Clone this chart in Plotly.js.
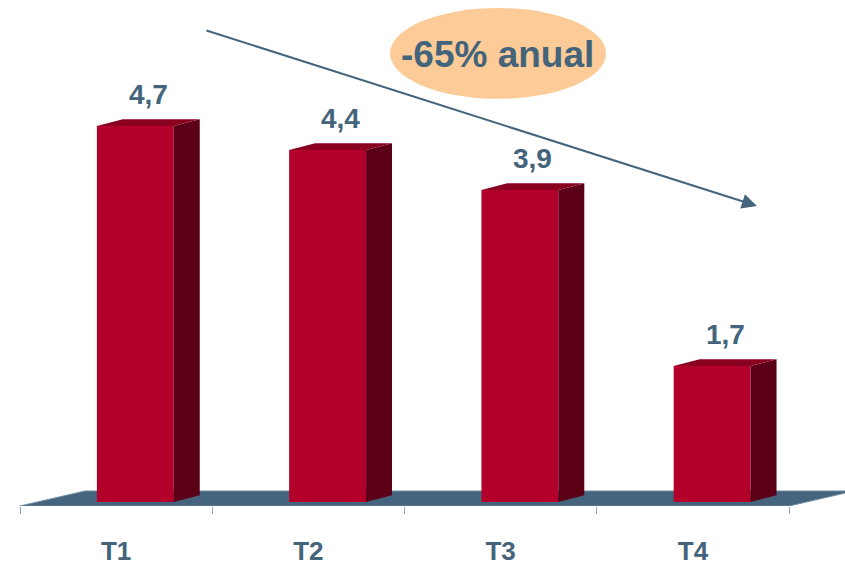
<!DOCTYPE html>
<html>
<head>
<meta charset="utf-8">
<script src="https://cdn.plot.ly/plotly-3.0.1.min.js"></script>
<style>html,body{margin:0;padding:0;background:#fff;}#chart{width:845px;height:565px;}</style>
</head>
<body>
<div id="chart"></div>
<script>
// ---- data ----
const categories = ['T1', 'T2', 'T3', 'T4'];
const values = [4.7, 4.4, 3.9, 1.7];
const trendLabel = '-65% anual';

// ---- styling / geometry ----
const FONT = 'Arial, "Liberation Sans", sans-serif';
const TEXT = '#43647b';
const FRONT = '#b3002a';
const SIDE = '#5c0018';
const TOP = '#8a0020';
const FLOOR = '#44657d';
const barOffset = -0.1, barWidth = 0.4;
const depthX = 0.135, depthY = 0.085;
const floorDepthX = 0.338, floorBackY = 0.1375, floorFrontY = -0.05;

const idx = categories.map((c, i) => i);
const boundaries = [-0.5].concat(idx.map(i => i + 0.5));
const fmt = v => v.toFixed(1).replace('.', ',');

const shapes = [];
// floor
const xL = boundaries[0], xR = boundaries[boundaries.length - 1];
shapes.push({
  type: 'path', xref: 'x', yref: 'y', layer: 'below',
  path: `M ${xL},${floorFrontY} L ${xL + floorDepthX},${floorBackY} L ${xR + floorDepthX},${floorBackY} L ${xR},${floorFrontY} Z`,
  fillcolor: FLOOR, line: {color: '#6f8ba0', width: 1}
});
// 3D side and top faces, computed from the data
values.forEach((v, i) => {
  const x0 = i + barOffset, x1 = x0 + barWidth;
  shapes.push({
    type: 'path', xref: 'x', yref: 'y', layer: 'above',
    path: `M ${x1},0 L ${x1 + depthX},${depthY} L ${x1 + depthX},${v + depthY} L ${x1},${v} Z`,
    fillcolor: SIDE, line: {width: 0}
  });
  shapes.push({
    type: 'path', xref: 'x', yref: 'y', layer: 'above',
    path: `M ${x0},${v} L ${x0 + depthX},${v + depthY} L ${x1 + depthX},${v + depthY} L ${x1},${v} Z`,
    fillcolor: TOP, line: {width: 0}
  });
});
// callout ellipse
shapes.push({
  type: 'circle', xref: 'x', yref: 'y', layer: 'below',
  x0: 1.425, x1: 2.548, y0: 5.04, y1: 6.175,
  fillcolor: '#fdcb98', line: {width: 0}
});

const annotations = values.map((v, i) => ({
  x: i + barOffset + barWidth / 2 + depthX / 2, y: v,
  xref: 'x', yref: 'y', text: fmt(v), showarrow: false,
  yanchor: 'bottom', yshift: 14,
  font: {family: FONT, size: 28, color: TEXT, weight: 'bold'}
}));
annotations.push({
  x: 3.333, y: 3.7, ax: 0.462, ay: 5.9, xref: 'x', yref: 'y', axref: 'x', ayref: 'y',
  text: '', showarrow: true, arrowhead: 2, arrowsize: 1.5, arrowwidth: 2, arrowcolor: TEXT
});
annotations.push({
  x: 1.986, y: 5.59, xref: 'x', yref: 'y', text: trendLabel, showarrow: false,
  font: {family: FONT, size: 37, color: TEXT, weight: 'bold'}
});

const trace = {
  type: 'bar', x: idx, y: values,
  offset: barOffset, width: barWidth,
  marker: {color: FRONT, line: {width: 0}},
  hoverinfo: 'skip'
};

const layout = {
  width: 845, height: 565,
  margin: {l: 0, r: 0, t: 0, b: 59},
  paper_bgcolor: '#fff', plot_bgcolor: '#fff',
  showlegend: false,
  xaxis: {
    range: [-0.604, 3.791], fixedrange: true,
    tickmode: 'array', tickvals: idx, ticktext: categories,
    ticks: '', showgrid: false, zeroline: false, showline: false,
    ticklabelstandoff: 27,
    tickfont: {family: FONT, size: 26, color: TEXT, weight: 'bold'},
    minor: {tickmode: 'array', tickvals: boundaries, ticks: 'outside', ticklen: 7, tickcolor: '#8fa3b4', tickwidth: 1, showgrid: false}
  },
  yaxis: {
    range: [-0.05, 6.275], fixedrange: true,
    visible: false, showgrid: false, zeroline: false
  },
  shapes: shapes,
  annotations: annotations
};

Plotly.newPlot('chart', [trace], layout, {displayModeBar: false, staticPlot: true});
</script>
</body>
</html>
